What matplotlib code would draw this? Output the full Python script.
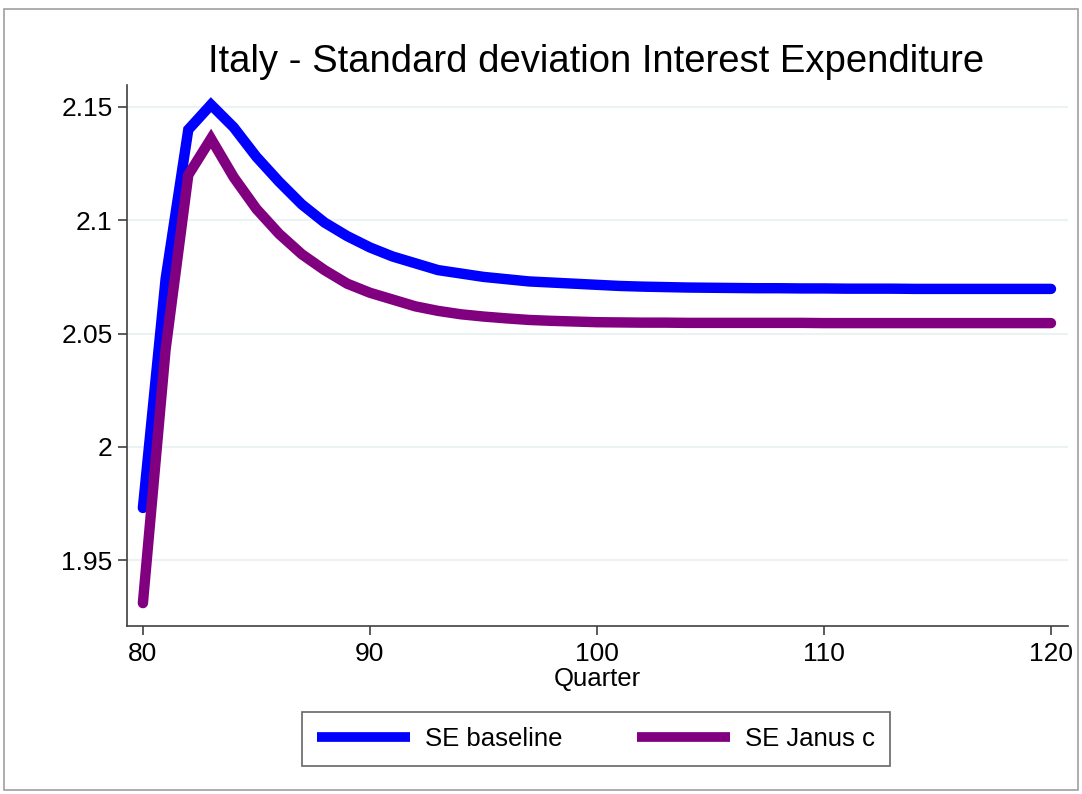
import matplotlib
matplotlib.use("Agg")
import matplotlib.pyplot as plt
from matplotlib.patches import Rectangle

plt.rcParams['font.family'] = ['Liberation Sans', 'DejaVu Sans']

quarters = list(range(80, 121))

se_baseline = [
    1.973, 2.074, 2.140, 2.151, 2.141, 2.128, 2.117, 2.107, 2.099, 2.093,
    2.088, 2.084, 2.081, 2.078, 2.0765, 2.075, 2.074, 2.073, 2.0725, 2.072,
    2.0715, 2.071, 2.0707, 2.0705, 2.0703, 2.0702, 2.0701, 2.0700, 2.0700, 2.0699,
    2.0699, 2.0698, 2.0698, 2.0698, 2.0697, 2.0697, 2.0697, 2.0697, 2.0697, 2.0697,
    2.0697,
]

se_janus = [
    1.931, 2.043, 2.120, 2.136, 2.119, 2.105, 2.094, 2.085, 2.078, 2.072,
    2.068, 2.065, 2.062, 2.060, 2.0585, 2.0575, 2.0567, 2.056, 2.0556, 2.0553,
    2.0550, 2.0549, 2.0548, 2.0548, 2.0547, 2.0547, 2.0547, 2.0547, 2.0547, 2.0547,
    2.0546, 2.0546, 2.0546, 2.0546, 2.0546, 2.0546, 2.0546, 2.0546, 2.0546, 2.0546,
    2.0546,
]

y_ticks = [1.95, 2.0, 2.05, 2.1, 2.15]
y_tick_labels = ["1.95", "2", "2.05", "2.1", "2.15"]
x_ticks = [80, 90, 100, 110, 120]

W, H = 1082, 794
fig = plt.figure(figsize=(W / 100, H / 100), dpi=100)
fig.patch.set_facecolor('white')

# outer frame of the graph region
fig.add_artist(Rectangle((4 / W, 1 - 790 / H), 1074 / W, 781 / H,
                         transform=fig.transFigure, fill=False,
                         edgecolor='#a0a0a0', linewidth=1.2))

left, right, top, bottom = 127, 1068, 85, 626
ax = fig.add_axes([left / W, 1 - bottom / H, (right - left) / W, (bottom - top) / H])

ax.plot(quarters, se_baseline, color='#0000ff', linewidth=7.5,
        solid_joinstyle='miter', solid_capstyle='round', label='SE baseline', zorder=3)
ax.plot(quarters, se_janus, color='#800080', linewidth=7.5,
        solid_joinstyle='miter', solid_capstyle='round', label='SE Janus c', zorder=3)

ax.set_xlim(79.3, 120.75)
ax.set_ylim(1.9209, 2.1597)
ax.set_yticks(y_ticks)
ax.set_yticklabels(y_tick_labels)
ax.set_xticks(x_ticks)

ax.grid(axis='y', color='#eaf2f3', linewidth=1.5, zorder=0)
ax.set_axisbelow(True)

for s in ['top', 'right']:
    ax.spines[s].set_visible(False)
for s in ['left', 'bottom']:
    ax.spines[s].set_color('#404040')
    ax.spines[s].set_linewidth(1.2)

ax.tick_params(axis='both', direction='out', length=6.5, width=1.2, color='#404040',
               labelsize=19, colors='black')
ax.tick_params(axis='y', pad=4)
ax.tick_params(axis='x', pad=5)

ax.set_xlabel('Quarter', fontsize=18.5, labelpad=1)
fig.text(596 / W, 1 - 62 / H, 'Italy - Standard deviation Interest Expenditure',
         ha='center', va='center', fontsize=27.5)

leg = fig.legend(loc='center', bbox_to_anchor=(596 / W, 1 - 739 / H), ncol=2,
                 frameon=True, fancybox=False, fontsize=18.5, handlelength=3.6,
                 columnspacing=2.9, handletextpad=0.6, borderpad=0.6,
                 borderaxespad=0, edgecolor='#404040')
leg.get_frame().set_linewidth(1.2)
for line in leg.get_lines():
    line.set_linewidth(7)
    line.set_solid_capstyle('butt')

fig.savefig('out.png', dpi=100)
